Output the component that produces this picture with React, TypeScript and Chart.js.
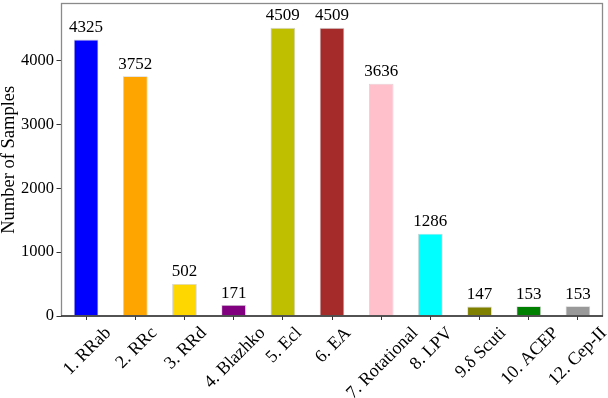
import React, { useEffect, useRef } from "react";
import { Chart, registerables } from "chart.js";

Chart.register(...registerables);

const categories = [
  "1. RRab",
  "2. RRc",
  "3. RRd",
  "4. Blazhko",
  "5. Ecl",
  "6. EA",
  "7. Rotational",
  "8. LPV",
  "9.δ Scuti",
  "10. ACEP",
  "12. Cep-II",
];
const sampleCounts = [4325, 3752, 502, 171, 4509, 4509, 3636, 1286, 147, 153, 153];
const barColors = [
  "#0000ff",
  "#ffa500",
  "#ffd700",
  "#800080",
  "#bfbf00",
  "#a52a2a",
  "#ffc0cb",
  "#00ffff",
  "#808000",
  "#008000",
  "#999999",
];
const yTicks = [0, 1000, 2000, 3000, 4000];
const yMax = 4890;
const yTitle = "Number of Samples";

const FONT = "'Liberation Serif', 'Times New Roman', serif";

const labelsPlugin = {
  id: "customLabels",
  afterDraw(chart: any) {
    const ctx = chart.ctx;
    const xs = chart.scales.x;
    const ys = chart.scales.y;
    const area = chart.chartArea;
    ctx.save();
    ctx.setLineDash([]);
    // frame
    ctx.lineWidth = 1.3;
    ctx.strokeStyle = "#8a8a8a";
    ctx.strokeRect(area.left, area.top, area.right - area.left, area.bottom - area.top);
    ctx.strokeStyle = "#333333";
    ctx.beginPath();
    ctx.moveTo(area.left - 0.5, area.bottom);
    ctx.lineTo(area.right + 0.5, area.bottom);
    ctx.stroke();

    // value labels
    const meta = chart.getDatasetMeta(0);
    ctx.fillStyle = "#000";
    ctx.font = `17px ${FONT}`;
    ctx.textAlign = "center";
    ctx.textBaseline = "alphabetic";
    meta.data.forEach((bar: any, i: number) => {
      const v = sampleCounts[i];
      ctx.fillText(String(v), bar.x, ys.getPixelForValue(v) - 7.5);
    });

    // rotated x labels, centred like matplotlib
    const s = Math.SQRT1_2;
    const yTop = area.bottom + 8.5;
    ctx.font = `18px ${FONT}`;
    ctx.textAlign = "left";
    const labels = xs.getLabels();
    labels.forEach((lab: string, i: number) => {
      const tx = xs.getPixelForTick(i);
      const m = ctx.measureText(lab);
      const L = m.width;
      const asc = m.actualBoundingBoxAscent;
      const desc = Math.max(0, m.actualBoundingBoxDescent);
      const xmin = -asc * s;
      const xmax = (L + desc) * s;
      const ymin = -(L + asc) * s;
      const ax = tx - (xmin + xmax) / 2;
      const ay = yTop - ymin;
      ctx.save();
      ctx.translate(ax, ay);
      ctx.rotate(-Math.PI / 4);
      ctx.fillText(lab, 0, 0);
      ctx.restore();
    });
    ctx.restore();
  },
};

export default function App() {
  const ref = useRef<HTMLCanvasElement | null>(null);
  useEffect(() => {
    if (!ref.current) return;
    const chart = new Chart(ref.current, {
      type: "bar",
      data: {
        labels: categories,
        datasets: [
          {
            data: sampleCounts,
            backgroundColor: barColors,
            borderColor: "rgba(150,150,150,0.45)",
            borderWidth: 0.8,
            categoryPercentage: 1,
            barPercentage: 0.5,
          },
        ],
      },
      options: {
        responsive: false,
        animation: false,
        devicePixelRatio: 1,
        layout: { padding: { top: 3.5, right: 5.5, left: 0, bottom: 0 } },
        plugins: {
          legend: { display: false },
          tooltip: { enabled: false },
        },
        scales: {
          x: {
            offset: true,
            grid: {
              display: true,
              drawOnChartArea: false,
              drawTicks: true,
              tickLength: 4,
              offset: false,
              color: "#333333",
              lineWidth: 1,
            },
            border: { display: false },
            ticks: { display: false, autoSkip: false },
            afterFit: (scale: any) => {
              scale.height = 82;
              scale.paddingLeft = 0;
              scale.paddingRight = 0;
            },
          },
          y: {
            min: 0,
            max: yMax,
            grid: {
              display: true,
              drawOnChartArea: false,
              drawTicks: true,
              tickLength: 5,
              color: "#333333",
              lineWidth: 1,
            },
            border: { display: false },
            afterBuildTicks: (scale: any) => {
              scale.ticks = yTicks.map((v) => ({ value: v }));
            },
            ticks: {
              color: "#000",
              padding: 2.5,
              font: { family: FONT, size: 16.5 },
              callback: (v: any) => String(v),
            },
            title: {
              display: true,
              text: yTitle,
              color: "#000",
              font: { family: FONT, size: 18.5, lineHeight: 1.0 },
              padding: { top: 0, bottom: 0 },
            },
            afterFit: (scale: any) => {
              scale.width = 61.5;
              scale.paddingTop = 0;
              scale.paddingBottom = 0;
            },
          },
        },
      },
      plugins: [labelsPlugin],
    });
    return () => chart.destroy();
  }, []);
  return (
    <div style={{ position: "fixed", left: 0, top: 0, width: 608, height: 398, background: "#fff" }}>
      <canvas ref={ref} width={608} height={398} />
    </div>
  );
}
